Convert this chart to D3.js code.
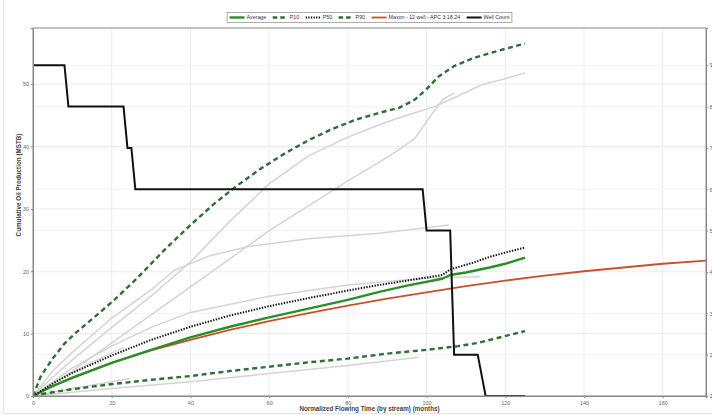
<!DOCTYPE html>
<html>
<head>
<meta charset="utf-8">
<script src="https://cdn.jsdelivr.net/npm/d3@7"></script>
<style>
  html, body { margin: 0; padding: 0; background: #fff; }
  svg { display: block; font-family: "Liberation Sans", Arial, sans-serif; }
</style>
</head>
<body>
<svg id="chart" width="712" height="416"></svg>
<script>
// Type curve data: [month, cumulative oil (MSTB)]
const averageCurve = [[0,0],[5,1.6],[10,2.9],[20,5.3],[30,7.4],[40,9.4],[50,11.1],[60,12.6],[70,14.0],[80,15.4],[88,16.7],[95,17.7],[104,18.8],[106,19.4],[110,19.8],[116,20.6],[120,21.2],[125,22.2]];
const p10Curve = [[0,0],[2,3.2],[5,6],[8,8.4],[11,10.2],[14,11.8],[17,13.4],[21,15.6],[26,18.6],[30,21.2],[34,23.8],[40,27.4],[46,30.8],[52,33.8],[58,36.5],[64,38.9],[70,41],[76,42.8],[82,44.3],[88,45.4],[93,46.2],[97,47.5],[100,49.2],[103,51.2],[107,52.9],[112,54.2],[119,55.5],[125,56.5]];
const p50Curve = [[0,0],[5,2.0],[10,3.7],[20,6.5],[30,9.0],[40,11.1],[50,12.9],[60,14.4],[70,15.7],[80,16.9],[88,17.8],[95,18.5],[104,19.4],[106,20.3],[112,21.4],[116,22.3],[120,23.0],[125,23.8]];
const p90Curve = [[0,0],[3,0.4],[10,1.1],[20,1.9],[30,2.6],[40,3.2],[50,4.0],[60,4.7],[70,5.4],[80,6.0],[90,6.8],[100,7.4],[108,8.0],[113,8.5],[118,9.3],[125,10.4]];
const maxonCurve = [[0,0],[5,1.6],[10,3.0],[20,5.3],[30,7.3],[40,9.0],[50,10.6],[60,12.0],[70,13.3],[80,14.5],[90,15.6],[100,16.6],[110,17.6],[120,18.5],[130,19.3],[140,20.0],[150,20.6],[160,21.2],[171,21.7]];

// Individual well histories
const well1 = [[0,0],[5,3],[10,5.8],[20,11],[30,16],[40,21.5],[50,28],[60,34],[70,38.5],[80,41.5],[88,43.5],[93,44.6],[102,46.4],[106,47.5],[114,49.9],[119,50.7],[125,51.8]];
const well2 = [[0,0],[10,4],[20,8.5],[30,13],[40,17.5],[50,22],[60,26.5],[70,30.5],[80,34.5],[88,37.5],[93,39.5],[97,41.3],[100,44],[104,47.5],[107,48.6]];
const well3 = [[0,0],[5,4],[10,7],[20,12.5],[30,17],[36,20.2],[45,22.5],[55,24],[70,25.2],[88,26.1],[105.7,27.4]];
const well4 = [[0,0],[10,4.5],[20,8],[30,11],[40,13.4],[60,16],[80,17.8],[100,18.9],[113.7,19.1]];
const well5 = [[0,0],[5,2],[10,3.8],[15,5.4],[23,7.8]];
const well6 = [[0,0],[10,1.2],[20,2.3],[24.7,2.8]];
const well7 = [[0,0],[10,0.6],[20,1.2],[40,2.3],[60,3.6],[80,4.9],[98,6.2]];
const wells = [well1, well2, well3, well4, well5, well6, well7];

// Producing well count by month
const wellCount = [[0,9],[8,9],[9,8],[23,8],[24,7],[25,7],[26,6],[99,6],[100,5],[106,5],[107,2],[113,2],[115,1],[125,1]];

// Axis ticks
const xTicks = [0,20,40,60,80,100,120,140,160];
const yTicks = [0,10,20,30,40,50];
const y2Ticks = [1,2,3,4,5,6,7,8,9];

const legendItems = [
  {label: "Average", color: "#2a8f2a", dash: null, width: 2.4},
  {label: "P10", color: "#2f6e36", dash: "4.5,3", width: 2.4},
  {label: "P50", color: "#111", dash: "1.3,1.3", width: 2},
  {label: "P90", color: "#2f6e36", dash: "4.5,3", width: 2.4},
  {label: "Maxon - 12 well - APC 3.18.24", color: "#c9502a", dash: null, width: 1.8},
  {label: "Well Count", color: "#111", dash: null, width: 2}
];

const svg = d3.select("#chart");
const W = 712, H = 416;
const m = {left: 33, right: 6, top: 28, bottom: 20};
const pw = W - m.left - m.right, ph = H - m.top - m.bottom;

// faint outer border
svg.append("line").attr("x1", 3.5).attr("x2", 3.5).attr("y1", 0).attr("y2", 413.5).attr("stroke", "#e4e4e4");
svg.append("line").attr("x1", 3.5).attr("x2", W).attr("y1", 413.5).attr("y2", 413.5).attr("stroke", "#e4e4e4");

const g = svg.append("g").attr("transform", `translate(${m.left},${m.top})`);

const x = d3.scaleLinear().domain([0, 171]).range([0, pw]);
const y = d3.scaleLinear().domain([0, 59]).range([ph, 0]);
const y2 = d3.scaleLinear().domain([1, 9.9]).range([ph, 0]);

// gridlines
g.append("g").selectAll("line").data(xTicks).join("line")
  .attr("x1", d => x(d)).attr("x2", d => x(d)).attr("y1", 0).attr("y2", ph)
  .attr("stroke", "#ececec").attr("stroke-width", 1);
g.append("g").selectAll("line").data(yTicks).join("line")
  .attr("x1", 0).attr("x2", pw).attr("y1", d => y(d)).attr("y2", d => y(d))
  .attr("stroke", "#ececec").attr("stroke-width", 1);
g.append("g").selectAll("line").data(y2Ticks).join("line")
  .attr("x1", 0).attr("x2", pw).attr("y1", d => y2(d)).attr("y2", d => y2(d))
  .attr("stroke", "#f3f3f3").attr("stroke-width", 1);

const line = d3.line().x(d => x(d[0])).y(d => y(d[1]));
const line2 = d3.line().x(d => x(d[0])).y(d => y2(d[1]));

g.append("defs").append("clipPath").attr("id", "plotclip")
  .append("rect").attr("width", pw).attr("height", ph);
const plot = g.append("g").attr("clip-path", "url(#plotclip)");

// individual wells
plot.selectAll("path.well").data(wells).join("path").attr("class", "well")
  .attr("d", line).attr("fill", "none").attr("stroke", "#d4d4d4").attr("stroke-width", 1.5);

// statistical curves
function curve(data, color, width, dash) {
  const p = plot.append("path").attr("d", line(data)).attr("fill", "none")
    .attr("stroke", color).attr("stroke-width", width).attr("stroke-linejoin", "round");
  if (dash) p.attr("stroke-dasharray", dash);
  return p;
}
curve(p90Curve, "#2f6e36", 2.4, "5,3.5");
curve(maxonCurve, "#c9502a", 1.8);
curve(averageCurve, "#2a8f2a", 2.4);
curve(p50Curve, "#111", 2, "1.4,1.4");
curve(p10Curve, "#2f6e36", 2.4, "5,3.5");

plot.append("path").attr("d", line2(wellCount)).attr("fill", "none")
  .attr("stroke", "#111").attr("stroke-width", 2);

// frame
g.append("rect").attr("width", pw).attr("height", ph).attr("fill", "none").attr("stroke", "#8a8a8a");

// axes
const fs = "5.5px";
const xAxis = g.append("g").attr("transform", `translate(0,${ph})`)
  .call(d3.axisBottom(x).tickValues(xTicks).tickSize(2).tickPadding(3));
const yAxis = g.append("g").call(d3.axisLeft(y).tickValues(yTicks).tickSize(2).tickPadding(2));
const y2Axis = g.append("g").attr("transform", `translate(${pw},0)`)
  .call(d3.axisRight(y2).tickValues(y2Ticks).tickSize(2).tickPadding(1.5));
[xAxis, yAxis, y2Axis].forEach(a => {
  a.select(".domain").attr("stroke", "#8a8a8a");
  a.selectAll(".tick line").attr("stroke", "#8a8a8a");
  a.selectAll("text").attr("fill", "#666").style("font-size", fs);
});

// axis titles
g.append("text").attr("x", pw / 2).attr("y", ph + 15).attr("text-anchor", "middle")
  .style("font-size", "6.3px").style("font-weight", "bold").attr("fill", "#444")
  .text("Normalized Flowing Time (by stream) (months)");
svg.append("text").attr("transform", "translate(21,185) rotate(-90)").attr("text-anchor", "middle")
  .style("font-size", "6.3px").style("font-weight", "bold").attr("fill", "#444")
  .text("Cumulative Oil Production (MSTB)");

// legend
const lg = svg.append("g");
const lfs = "5.3px";
const sample = 15, gapA = 2, gapB = 6.5;
let cx = 0;
const itemsG = lg.append("g");
legendItems.forEach(it => {
  const ig = itemsG.append("g").attr("transform", `translate(${cx},0)`);
  const l = ig.append("line").attr("x1", 0).attr("x2", sample).attr("y1", 0).attr("y2", 0)
    .attr("stroke", it.color).attr("stroke-width", it.width);
  if (it.dash) l.attr("stroke-dasharray", it.dash);
  const t = ig.append("text").attr("x", sample + gapA).attr("y", 1.9).style("font-size", lfs)
    .attr("fill", "#333").text(it.label);
  cx += sample + gapA + t.node().getComputedTextLength() + gapB;
});
const totalW = cx - gapB;
const boxPad = 2.5;
const lx = (m.left + pw / 2) - totalW / 2;
itemsG.attr("transform", `translate(${lx},17.5)`);
lg.insert("rect", ":first-child").attr("x", lx - boxPad).attr("y", 12.5)
  .attr("width", totalW + 2 * boxPad).attr("height", 10).attr("fill", "#fff").attr("stroke", "#999").attr("stroke-width", 0.8);
</script>
</body>
</html>
